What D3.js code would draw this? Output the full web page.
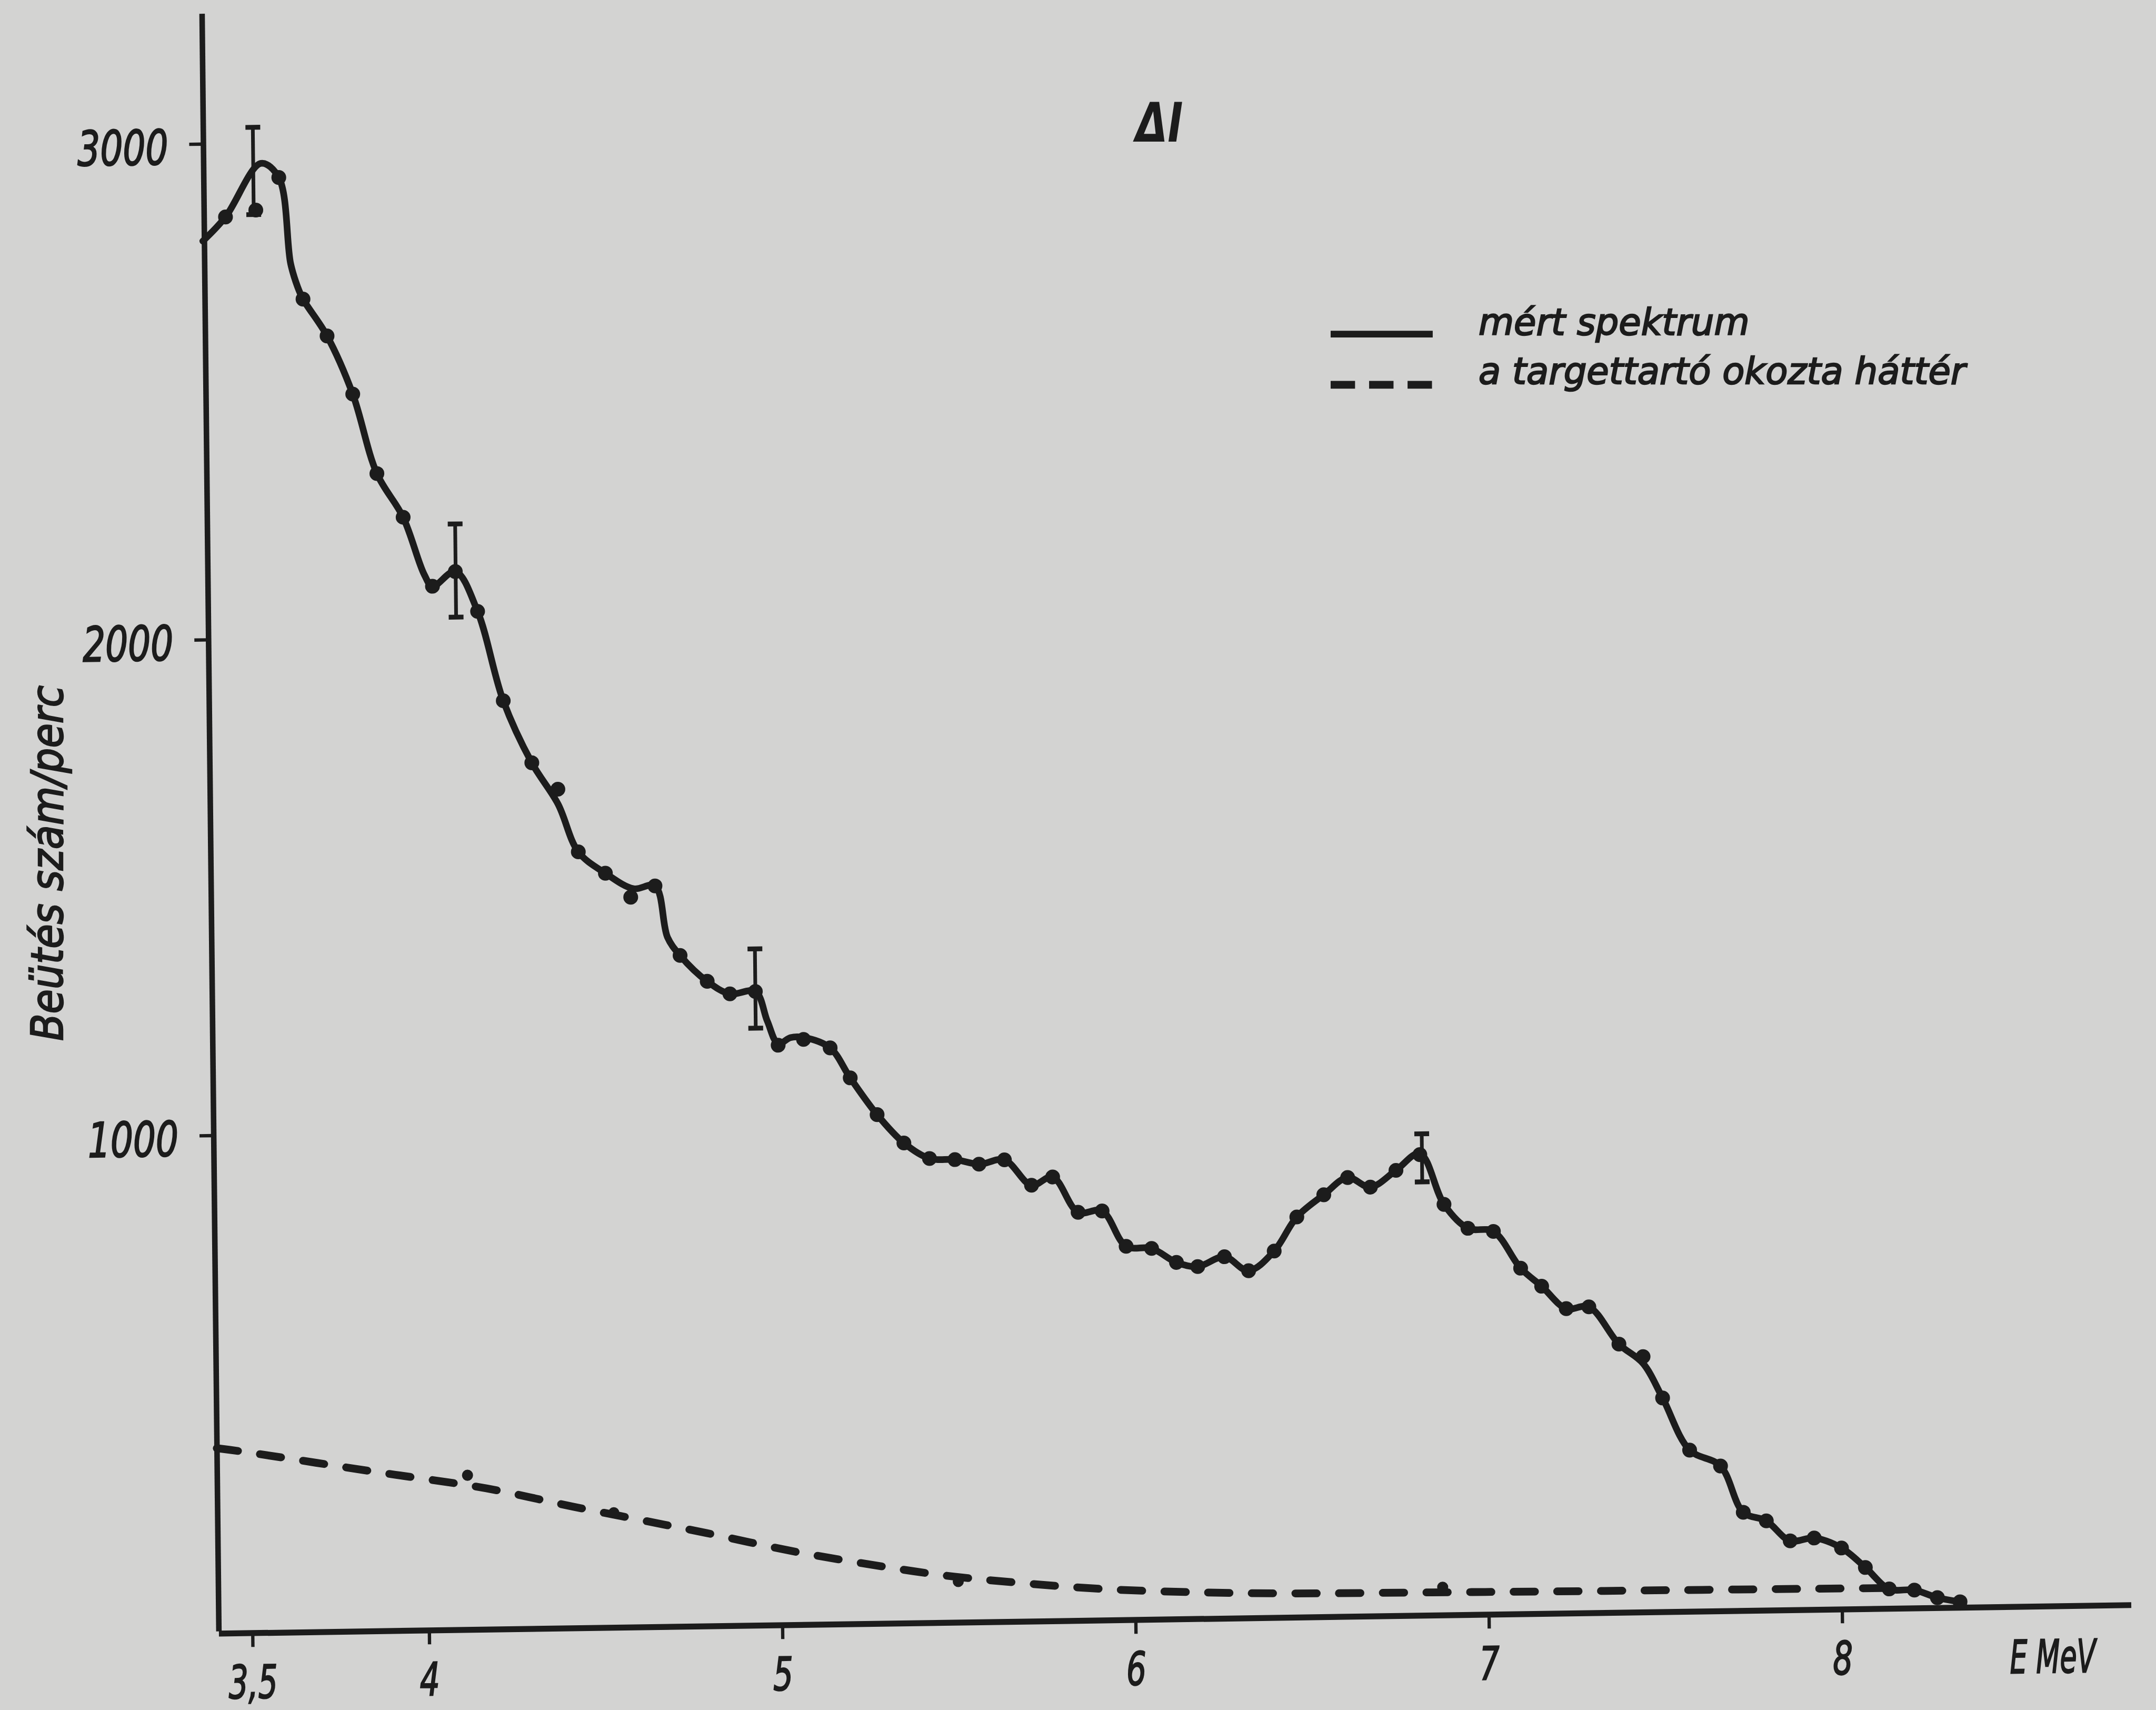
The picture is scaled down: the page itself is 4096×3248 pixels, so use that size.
<!DOCTYPE html>
<html>
<head>
<meta charset="utf-8">
<script src="https://cdn.jsdelivr.net/npm/d3@7"></script>
<style>
  html, body { margin: 0; padding: 0; background: #d3d3d2; }
  svg { display: block; }
</style>
</head>
<body>
<div id="chart"></div>
<script>
// Measured counting points: [E (MeV), counts per minute]
const measuredPoints = [
  [3.465, 2852], [3.551, 2865], [3.617, 2930], [3.682, 2684], [3.749, 2609],
  [3.820, 2491], [3.886, 2330], [3.959, 2241], [4.040, 2101], [4.105, 2130],
  [4.167, 2049], [4.237, 1868], [4.316, 1742], [4.389, 1688], [4.445, 1561],
  [4.521, 1517], [4.592, 1468], [4.661, 1490], [4.730, 1349], [4.806, 1296],
  [4.870, 1270], [4.942, 1274], [5.005, 1165], [5.077, 1176], [5.152, 1158],
  [5.208, 1097], [5.283, 1022], [5.358, 964], [5.430, 932], [5.502, 929],
  [5.570, 919], [5.642, 927], [5.718, 875], [5.778, 891], [5.849, 819],
  [5.917, 821], [5.984, 749], [6.056, 744], [6.126, 715], [6.186, 706],
  [6.262, 725], [6.330, 696], [6.403, 735], [6.468, 803], [6.545, 847],
  [6.613, 881], [6.677, 861], [6.750, 894], [6.818, 925], [6.885, 824],
  [6.952, 775], [7.024, 768], [7.100, 693], [7.159, 656], [7.228, 610],
  [7.292, 613], [7.376, 537], [7.444, 511], [7.498, 427], [7.573, 321],
  [7.660, 288], [7.723, 194], [7.788, 176], [7.855, 135], [7.923, 140],
  [8.000, 119], [8.067, 79], [8.134, 35], [8.205, 32], [8.270, 16], [8.334, 7]
];

// Hand-drawn curve through the measured spectrum
const spectrumCurve = [
  [3.400, 2804], [3.465, 2852], [3.567, 2959], [3.617, 2930], [3.648, 2756],
  [3.667, 2709], [3.682, 2684], [3.749, 2609], [3.820, 2491], [3.886, 2330],
  [3.959, 2241], [4.017, 2125], [4.040, 2101], [4.105, 2130], [4.167, 2049],
  [4.237, 1868], [4.316, 1742], [4.389, 1658], [4.445, 1561], [4.521, 1517],
  [4.600, 1485], [4.661, 1490], [4.695, 1386], [4.730, 1349], [4.806, 1296],
  [4.870, 1270], [4.942, 1274], [4.975, 1214], [5.005, 1168], [5.040, 1180],
  [5.077, 1180], [5.152, 1158], [5.208, 1097], [5.283, 1022], [5.358, 964],
  [5.430, 932], [5.502, 929], [5.570, 919], [5.642, 927], [5.718, 875],
  [5.778, 891], [5.849, 819], [5.917, 821], [5.984, 749], [6.056, 744],
  [6.126, 715], [6.186, 706], [6.262, 725], [6.330, 696], [6.403, 735],
  [6.468, 803], [6.545, 847], [6.613, 881], [6.677, 861], [6.750, 894],
  [6.818, 927], [6.885, 824], [6.952, 775], [7.024, 768], [7.100, 693],
  [7.159, 656], [7.228, 610], [7.292, 613], [7.376, 537], [7.444, 497],
  [7.498, 427], [7.573, 321], [7.660, 288], [7.723, 194], [7.788, 176],
  [7.855, 135], [7.923, 140], [8.000, 119], [8.067, 79], [8.134, 35],
  [8.205, 32], [8.270, 16], [8.334, 7]
];

// Background caused by the target holder
const backgroundCurve = [
  [3.404, 369], [3.468, 363], [3.683, 337], [3.905, 310], [4.150, 284],
  [4.288, 261], [4.411, 240], [4.541, 221], [4.671, 201], [4.786, 184],
  [4.917, 162], [5.047, 141], [5.200, 121], [5.346, 103], [5.477, 88],
  [5.661, 74], [5.907, 57], [6.166, 49], [6.423, 43], [6.867, 42],
  [7.132, 40], [7.600, 39], [8.090, 37], [8.120, 37]
];
const backgroundPoints = [[4.113, 307], [4.526, 227], [5.499, 78], [6.870, 52]];

// Statistical error bars: [E, lower, upper]
const errorBars = [
  [3.545, 2856, 3032], [4.106, 2038, 2226], [4.942, 1200, 1360], [6.824, 870, 967]
];

const xTicks = [3.5, 4, 5, 6, 7, 8];
const xTickLabels = ["3,5", "4", "5", "6", "7", "8"];
const yTicks = [1000, 2000, 3000];
const yTickLabels = ["1000", "2000", "3000"];
const legendLabels = ["mért spektrum", "a targettartó okozta háttér"];
const titleText = "ΔI";
const yTitleText = "Beütés szám/perc";
const xTitleText = "E MeV";

// ---------------------------------------------------------------------
const W = 5828, H = 4622;
const ink = "#1c1c1c";
const font = "'DejaVu Sans', 'Liberation Sans', sans-serif";

const svg = d3.select("#chart").append("svg")
  .attr("width", 4096).attr("height", 3248)
  .attr("viewBox", `0 0 ${W} ${H}`);

svg.append("rect").attr("width", W).attr("height", H).attr("fill", "#d3d3d2");

// Lettering style: oblique with a slightly heavier pen stroke
function letter(sel, size) {
  return sel.attr("fill", ink).attr("stroke", ink).attr("stroke-width", 3.5)
    .attr("font-family", font).attr("font-style", "oblique")
    .attr("font-size", size);
}

// The plotting frame sits slightly askew on the sheet
const frame = svg.append("g")
  .attr("transform", "matrix(1,-0.0149,0.0104,1,591,4415)");

const x = d3.scaleLinear().domain([3.4042, 8.818]).range([0, 5170]);
const y = d3.scaleLinear().domain([0, 3263]).range([-6, -4378.4]);

// Axes
const xAxis = d3.axisBottom(x)
  .tickValues(xTicks)
  .tickFormat((d, i) => xTickLabels[i])
  .tickSize(38).tickPadding(50).tickSizeOuter(0);
const gx = frame.append("g").call(xAxis);
gx.select(".domain").attr("stroke", ink).attr("stroke-width", 16);
gx.selectAll(".tick line").attr("stroke", ink).attr("stroke-width", 9);
letter(gx.selectAll(".tick text"), 124)
  .attr("textLength", (d, i) => i === 0 ? 132 : 54)
  .attr("lengthAdjust", "spacingAndGlyphs");

const yAxis = d3.axisLeft(y)
  .tickValues(yTicks)
  .tickFormat((d, i) => yTickLabels[i])
  .tickSize(38).tickPadding(57).tickSizeOuter(0);
const gy = frame.append("g").call(yAxis);
gy.select(".domain").attr("stroke", ink).attr("stroke-width", 15);
gy.selectAll(".tick line").attr("stroke", ink).attr("stroke-width", 9);
letter(gy.selectAll(".tick text"), 130)
  .attr("dy", "0.41em")
  .attr("textLength", 245)
  .attr("lengthAdjust", "spacingAndGlyphs");

// Energy unit at the end of the abscissa
letter(frame.append("text"), 124)
  .attr("x", x(8.595)).attr("y", 180)
  .attr("text-anchor", "middle")
  .attr("textLength", 232).attr("lengthAdjust", "spacingAndGlyphs")
  .text(xTitleText);

// Background curve (dashed)
const bgLine = d3.line().x(d => x(d[0])).y(d => y(d[1])).curve(d3.curveBasis);
frame.append("path")
  .datum(backgroundCurve)
  .attr("d", bgLine)
  .attr("fill", "none").attr("stroke", ink)
  .attr("stroke-width", 21)
  .attr("stroke-linecap", "round")
  .attr("stroke-dasharray", "58 60");

frame.append("g").selectAll("circle")
  .data(backgroundPoints).join("circle")
  .attr("cx", d => x(d[0])).attr("cy", d => y(d[1]))
  .attr("r", 15).attr("fill", ink);

// Measured spectrum curve
const specLine = d3.line().x(d => x(d[0])).y(d => y(d[1]))
  .curve(d3.curveCatmullRom.alpha(0.5));
frame.append("path")
  .datum(spectrumCurve)
  .attr("d", specLine)
  .attr("fill", "none").attr("stroke", ink)
  .attr("stroke-width", 18)
  .attr("stroke-linejoin", "round").attr("stroke-linecap", "round");

frame.append("g").selectAll("circle")
  .data(measuredPoints).join("circle")
  .attr("cx", d => x(d[0])).attr("cy", d => y(d[1]))
  .attr("r", 20).attr("fill", ink);

// Error bars
const eb = frame.append("g").attr("stroke", ink).attr("stroke-width", 10);
eb.selectAll("line.bar").data(errorBars).join("line").attr("class", "bar")
  .attr("x1", d => x(d[0])).attr("x2", d => x(d[0]))
  .attr("y1", d => y(d[1])).attr("y2", d => y(d[2]));
eb.selectAll("line.capHi").data(errorBars).join("line").attr("class", "capHi")
  .attr("stroke-width", 13)
  .attr("x1", d => x(d[0]) - 20).attr("x2", d => x(d[0]) + 20)
  .attr("y1", d => y(d[2])).attr("y2", d => y(d[2]));
eb.selectAll("line.capLo").data(errorBars).join("line").attr("class", "capLo")
  .attr("stroke-width", 13)
  .attr("x1", d => x(d[0]) - 20).attr("x2", d => x(d[0]) + 20)
  .attr("y1", d => y(d[1])).attr("y2", d => y(d[1]));

// Ordinate title
letter(svg.append("text"), 118)
  .attr("transform", "translate(169,2333) rotate(-90)")
  .attr("text-anchor", "middle")
  .attr("textLength", 961).attr("lengthAdjust", "spacingAndGlyphs")
  .text(yTitleText);

// Title
svg.append("text")
  .attr("x", 3070).attr("y", 383)
  .attr("fill", ink).attr("font-family", font).attr("font-style", "oblique")
  .attr("font-weight", "bold").attr("font-size", 147)
  .attr("textLength", 128).attr("lengthAdjust", "spacingAndGlyphs")
  .text(titleText);

// Legend
const legend = svg.append("g");
const legendRows = [
  { y: 903, textY: 905, dash: null, w: 18 },
  { y: 1040, textY: 1037, dash: "66 38", w: 21 }
];
legend.selectAll("line").data(legendRows).join("line")
  .attr("x1", 3597).attr("x2", 3873)
  .attr("y1", d => d.y).attr("y2", d => d.y)
  .attr("stroke", ink).attr("stroke-width", d => d.w)
  .attr("stroke-dasharray", d => d.dash);
letter(legend.selectAll("text").data(legendLabels).join("text"), 98)
  .attr("x", 3997).attr("y", (d, i) => legendRows[i].textY)
  .text(d => d);
</script>
</body>
</html>
